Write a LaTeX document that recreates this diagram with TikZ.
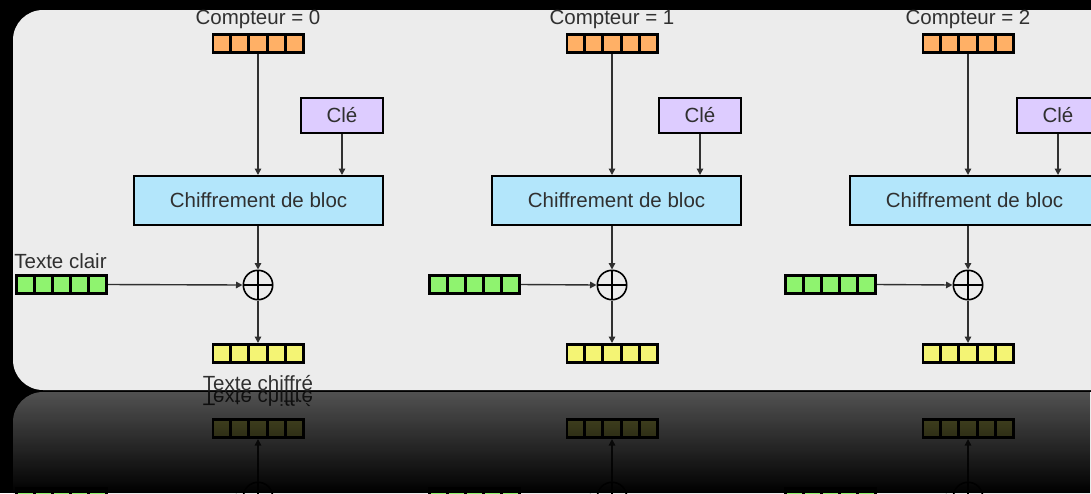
\documentclass[tikz,border=0pt]{standalone}
\usepackage{fontspec}
\setmainfont{Liberation Sans}
\usetikzlibrary{arrows.meta,calc,fadings}

\definecolor{panel}{HTML}{ECECEC}
\definecolor{ink}{HTML}{303030}
\definecolor{ctrfill}{HTML}{FFB066}
\definecolor{keyfill}{HTML}{DDCCFF}
\definecolor{encfill}{HTML}{B3E6FB}
\definecolor{ptfill}{HTML}{8FF36F}
\definecolor{ctfill}{HTML}{F4F474}

% darkening of the mirror image, stronger towards the bottom
\tikzfading[name=reflfade, top color=transparent!35, bottom color=transparent!0]

\tikzset{
  lbl/.style={text=ink, font=\fontsize{20.5}{24}\selectfont, inner sep=0pt},
  cells/.style={draw=black, line width=2.6pt, minimum width=90.4pt, minimum height=18.4pt,
    inner sep=0pt, fill=#1,
    path picture={\foreach \k in {1,2,3,4}{
      \draw[line width=3pt]
        ($(path picture bounding box.south west)!\k/5!(path picture bounding box.south east)$) --
        ($(path picture bounding box.north west)!\k/5!(path picture bounding box.north east)$);}}},
  boxnode/.style={draw=black, line width=2.4pt, fill=#1, text=ink,
    font=\fontsize{20.5}{24}\selectfont, inner sep=0pt},
  xornode/.style={circle, draw=black, line width=1.6pt, minimum size=29.4pt, inner sep=0pt,
    path picture={\draw[line width=1.2pt]
      (path picture bounding box.north) -- (path picture bounding box.south)
      (path picture bounding box.west) -- (path picture bounding box.east);}},
  link/.style={draw=ink, line width=1.4pt, -{Triangle[length=6.5pt,width=6.5pt]}},
}

% lower half of the three counter-mode stages (XOR and the data blocks)
\newcommand\ctrlower[1]{%
  \fill[panel, rounded corners=30pt] (13,10) rectangle (1140,390);
  \foreach \i/\cx/\gx in {0/258/61.5, 1/612/474.5, 2/968/830.5}{
    \node[xornode] (#1xor\i) at (\cx,285) {};
    \node[cells=ptfill] (#1pt\i) at (\gx,284.5) {};
    \node[cells=ctfill] (#1ct\i) at (\cx,353.5) {};
    \draw[link] (#1pt\i.east) -- (#1xor\i.west);
    \draw[link] (#1xor\i.south) -- (#1ct\i.north);
  }
  \node[lbl] (#1ctlab) at (258,383) {Texte chiffré};
}

% upper half: counters, keys and block ciphers
\newcommand\ctrupper[1]{%
  \foreach \i/\cx/\kx/\ex in {0/258/342/258.5, 1/612/700/616.5, 2/968/1058/974.5}{
    \node[lbl] (#1lab\i) at (\cx,19) {Compteur = \i};
    \node[cells=ctrfill] (#1ctr\i) at (\cx,43.5) {};
    \node[boxnode=keyfill, minimum width=81.6pt, minimum height=34.6pt] (#1key\i) at (\kx,115.5) {Clé};
    \node[boxnode=encfill, minimum width=248.6pt, minimum height=48.6pt] (#1enc\i) at (\ex,200.5) {Chiffrement de bloc};
    \draw[link] (#1ctr\i.south) -- (#1ctr\i.south |- #1enc\i.north);
    \draw[link] (#1key\i.south) -- (#1key\i.south |- #1enc\i.north);
    \draw[link] (#1xor\i.north |- #1enc\i.south) -- (#1xor\i.north);
  }
  \node[lbl] (#1ptlab) at (60.5,261) {Texte clair};
}

\begin{document}
\begin{tikzpicture}[x=1pt, y=-1pt]
  \useasboundingbox (0,0) rectangle (1091,493);
  \fill[black] (0,0) rectangle (1091,493);

  % mirror image below the panel
  \begin{scope}[cm={1,0,0,-1,(0pt,-782pt)}, transform shape]
    \ctrlower{m}
  \end{scope}
  \fill[black, path fading=reflfade] (0,391) rectangle (1091,493);

  % the panel itself
  \ctrlower{}
  \ctrupper{}
\end{tikzpicture}
\end{document}
